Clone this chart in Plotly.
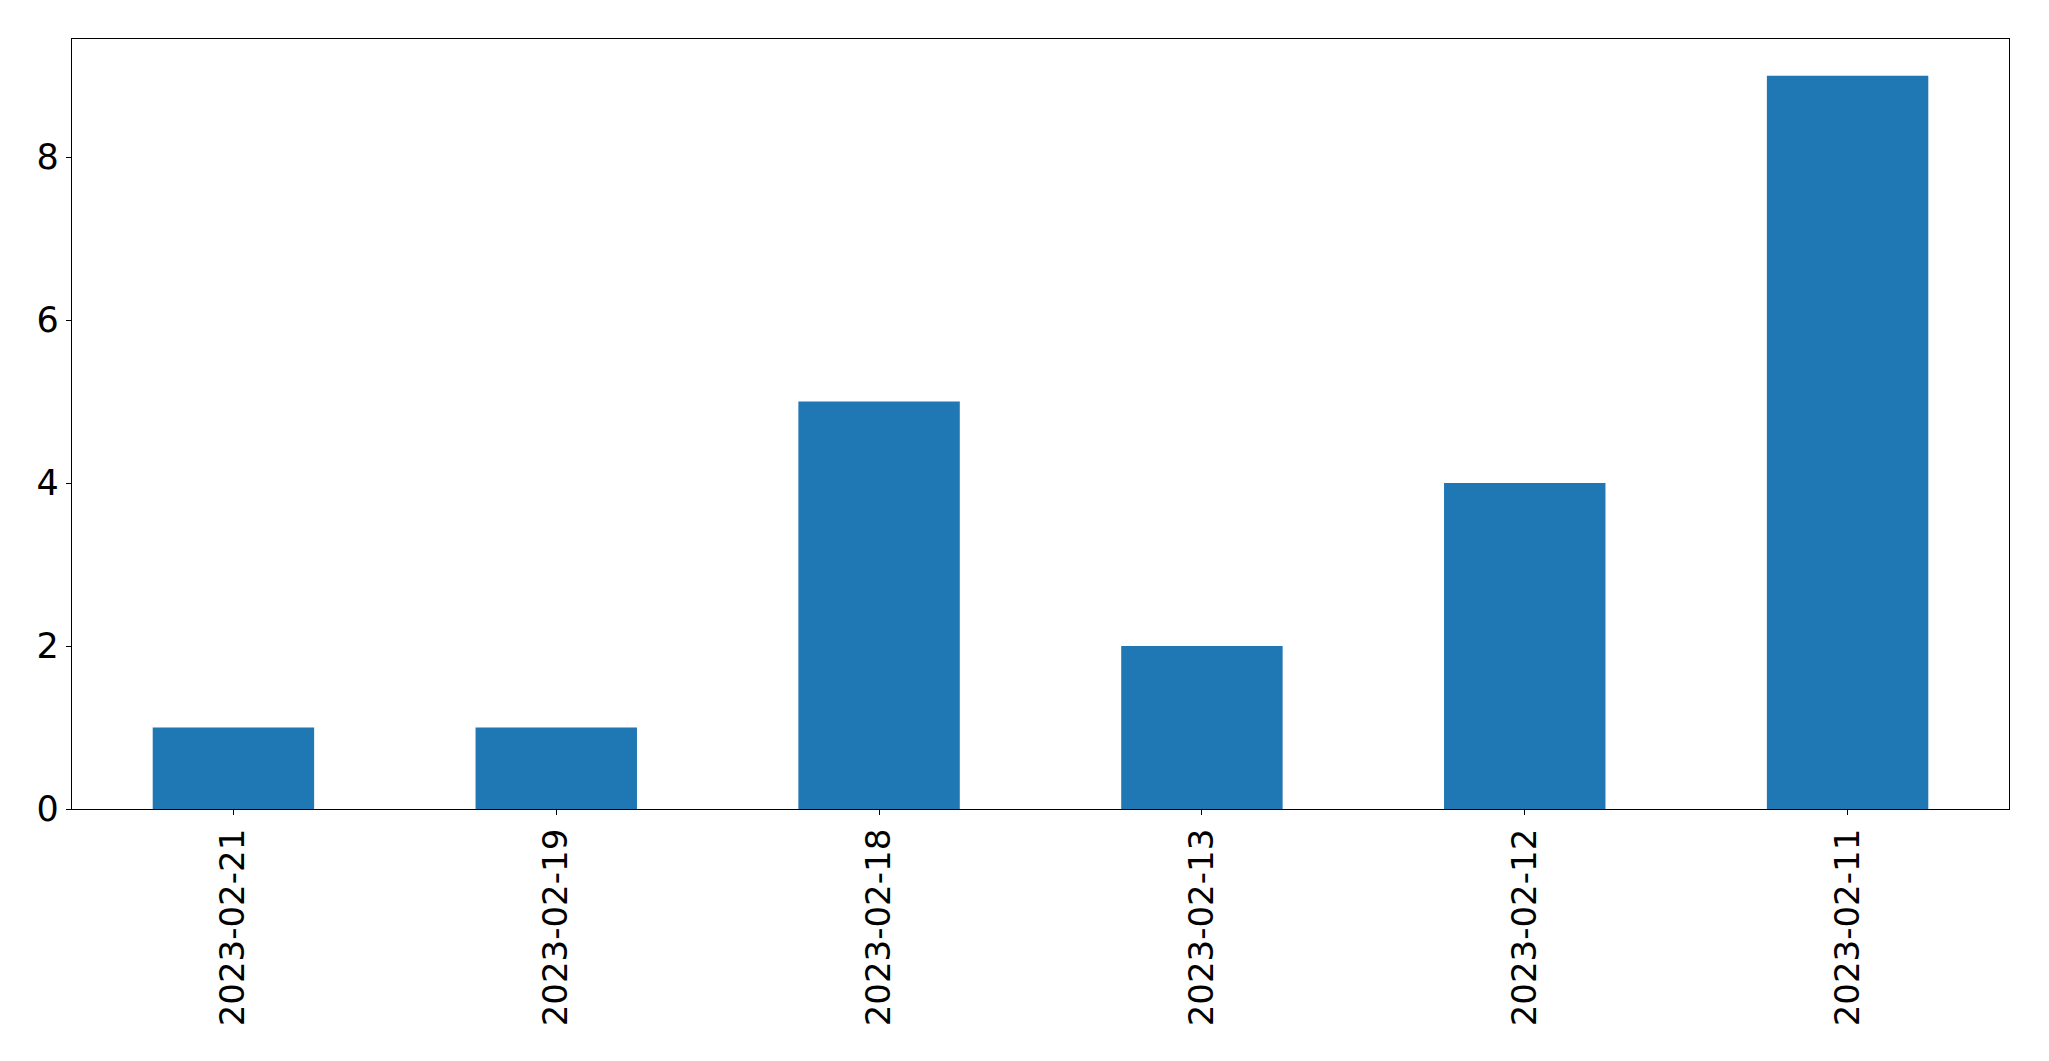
import plotly.graph_objects as go

categories = ["2023-02-21", "2023-02-19", "2023-02-18", "2023-02-13", "2023-02-12", "2023-02-11"]
values = [1, 1, 5, 2, 4, 9]
y_ticks = [0, 2, 4, 6, 8]

fig = go.Figure()
fig.add_trace(go.Bar(x=categories, y=values, marker=dict(color="#1f77b4", line=dict(width=0))))

fig.update_layout(
    width=2049, height=1061,
    margin=dict(l=64, r=48, t=31, b=260, pad=0),
    plot_bgcolor="white", paper_bgcolor="white",
    bargap=0.5,
    showlegend=False,
    font=dict(family="DejaVu Sans", size=34, color="black"),
)
fig.update_xaxes(
    type="category", range=[-0.5, 5.5], automargin=False,
    showline=True, linecolor="black", linewidth=1.3, mirror=True,
    ticks="outside", ticklen=5, tickwidth=1.3, tickcolor="black",
    tickangle=-90, showgrid=False, zeroline=False,
)
fig.update_yaxes(
    range=[0, 9.45], tickvals=y_ticks, automargin=False,
    showline=True, linecolor="black", linewidth=1.3, mirror=True,
    ticks="outside", ticklen=5, tickwidth=1.3, tickcolor="black",
    showgrid=False, zeroline=False, tickfont=dict(size=35),
)
fig.write_html("out.html")
